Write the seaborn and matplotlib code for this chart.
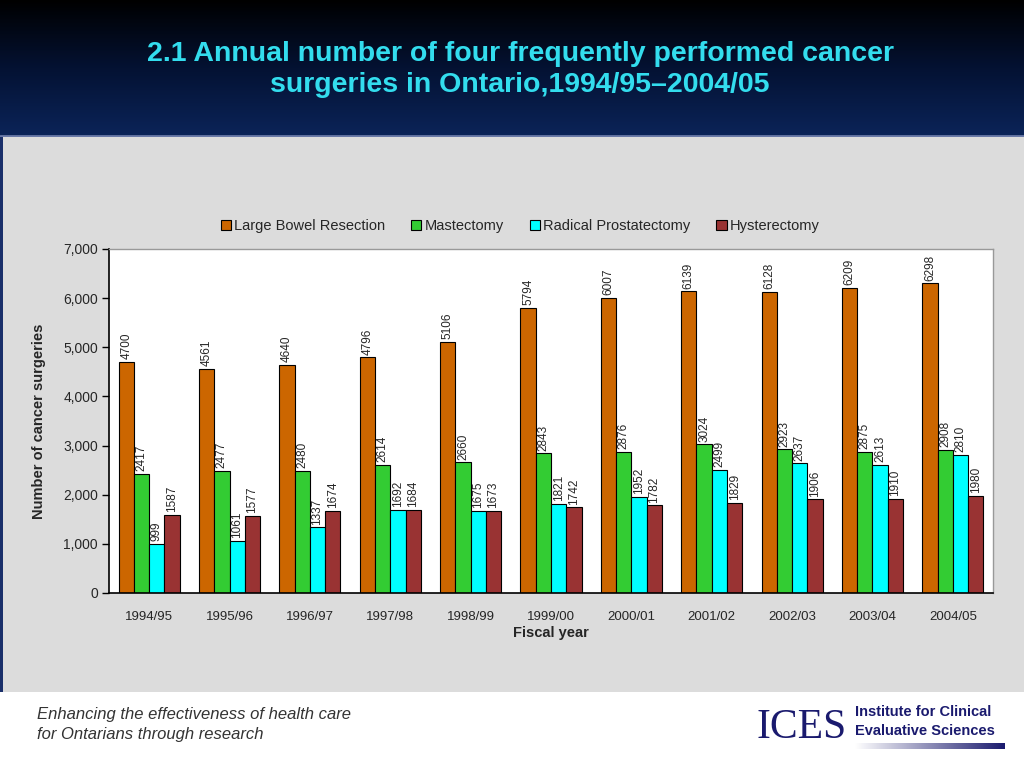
import numpy as np
import pandas as pd
import matplotlib
matplotlib.use("Agg")
import matplotlib.pyplot as plt
import seaborn as sns
from matplotlib.patches import Rectangle
from matplotlib.colors import LinearSegmentedColormap
from matplotlib.ticker import FuncFormatter

years = ["1994/95", "1995/96", "1996/97", "1997/98", "1998/99", "1999/00",
         "2000/01", "2001/02", "2002/03", "2003/04", "2004/05"]
procedures = ["Large Bowel Resection", "Mastectomy", "Radical Prostatectomy", "Hysterectomy"]
large_bowel = [4700, 4561, 4640, 4796, 5106, 5794, 6007, 6139, 6128, 6209, 6298]
mastectomy = [2417, 2477, 2480, 2614, 2660, 2843, 2876, 3024, 2923, 2875, 2908]
prostatectomy = [999, 1061, 1337, 1692, 1675, 1821, 1952, 2499, 2637, 2613, 2810]
hysterectomy = [1587, 1577, 1674, 1684, 1673, 1742, 1782, 1829, 1906, 1910, 1980]
colors = ["#CC6600", "#33CC33", "#00FFFF", "#993333"]

sns.set_theme(style="white")
plt.rcParams['font.family'] = ['Liberation Sans', 'DejaVu Sans']

rows = []
for proc, vals in zip(procedures, [large_bowel, mastectomy, prostatectomy, hysterectomy]):
    for y, v in zip(years, vals):
        rows.append({"Fiscal year": y, "Procedure": proc, "Count": v})
df = pd.DataFrame(rows)

W, H = 1024, 768
fig = plt.figure(figsize=(10.24, 7.68), dpi=100)
fig.patch.set_facecolor("white")

# gray panel (behind axes)
fig.patches.append(Rectangle((0, 1 - 692 / H), 1, (692 - 137) / H, transform=fig.transFigure,
                             facecolor="#DCDCDC", edgecolor="none", zorder=-3))
fig.patches.append(Rectangle((0, 1 - 692 / H), 3 / W, (692 - 137) / H, transform=fig.transFigure,
                             facecolor="#1a2f6a", edgecolor="none", zorder=-2))

# header gradient
hdr = fig.add_axes([0, 1 - 137 / H, 1, 137 / H])
cmap = LinearSegmentedColormap.from_list("hdr", ["#000000", "#041233", "#0b2459"])
grad = np.linspace(0, 1, 256).reshape(-1, 1)
hdr.imshow(grad, aspect="auto", cmap=cmap, extent=[0, 1, 0, 1], origin="upper")
hdr.axhline(0.005, color="#6a7aa8", lw=2)
hdr.set_xlim(0, 1)
hdr.set_ylim(0, 1)
hdr.set_axis_off()
hdr.text(0.508, 0.49, "2.1 Annual number of four frequently performed cancer\nsurgeries in Ontario,1994/95\u20132004/05",
         ha="center", va="center", color="#33DDEE", fontsize=20.5, fontweight="bold",
         linespacing=1.25, transform=hdr.transAxes)

ax = fig.add_axes([109 / W, 1 - 593 / H, (993 - 109) / W, (593 - 249) / H])
sns.barplot(data=df, x="Fiscal year", y="Count", hue="Procedure", hue_order=procedures,
            palette=colors, width=0.76, edgecolor="black", linewidth=0.8,
            saturation=1, ax=ax, legend=False)
ax.set_facecolor("white")
ax.set_ylim(0, 7000)
ax.set_yticks(np.arange(0, 7001, 1000))
ax.yaxis.set_major_formatter(FuncFormatter(lambda v, p: f"{v:,.0f}"))
ax.tick_params(axis="y", which="major", length=5, width=1, color="black", direction="out",
               labelsize=10, left=True, pad=3)
ax.tick_params(axis="x", length=0, labelsize=9.5, pad=13)
for s in ["left", "bottom"]:
    ax.spines[s].set_color("black")
    ax.spines[s].set_linewidth(1.2)
for s in ["top", "right"]:
    ax.spines[s].set_color("#999999")
    ax.spines[s].set_linewidth(1.0)
ax.set_ylabel("Number of cancer surgeries", fontsize=10.5, fontweight="bold", labelpad=12)
ax.set_xlabel("Fiscal year", fontsize=10.5, fontweight="bold", labelpad=2)

for cont in ax.containers:
    ax.bar_label(cont, labels=[f"{int(v)}" for v in cont.datavalues], rotation=90,
                 fontsize=8.5, padding=2)

handles = [Rectangle((0, 0), 1, 1, facecolor=c, edgecolor="black", linewidth=0.8) for c in colors]
fig.legend(handles, procedures, loc="center", bbox_to_anchor=(520 / W, 1 - 226 / H), ncol=4,
           frameon=False, fontsize=10.5, handlelength=0.7, handleheight=0.7, handletextpad=0.2,
           columnspacing=1.8)

# footer
fig.text(37 / W, 1 - 714 / H, "Enhancing the effectiveness of health care", fontsize=12,
         style="italic", color="#333333", va="center", ha="left")
fig.text(37 / W, 1 - 735 / H, "for Ontarians through research", fontsize=12,
         style="italic", color="#333333", va="center", ha="left")
fig.text(802 / W, 1 - 728 / H, "ICES", fontsize=30, family=['Liberation Serif', 'DejaVu Serif'],
         color="#1a1a6e", ha="center", va="center")
fig.text(855 / W, 1 - 712 / H, "Institute for Clinical", fontsize=10.5, fontweight="bold",
         color="#1a1a6e", va="center", ha="left")
fig.text(855 / W, 1 - 731 / H, "Evaluative Sciences", fontsize=10.5, fontweight="bold",
         color="#1a1a6e", va="center", ha="left")
gax = fig.add_axes([855 / W, 1 - 749 / H, 150 / W, 6 / H])
gcmap = LinearSegmentedColormap.from_list("g", ["#ffffff", "#1a1a6e"])
gax.imshow(np.linspace(0, 1, 256).reshape(1, -1), aspect="auto", cmap=gcmap)
gax.set_axis_off()

fig.savefig("out.png", dpi=100)
